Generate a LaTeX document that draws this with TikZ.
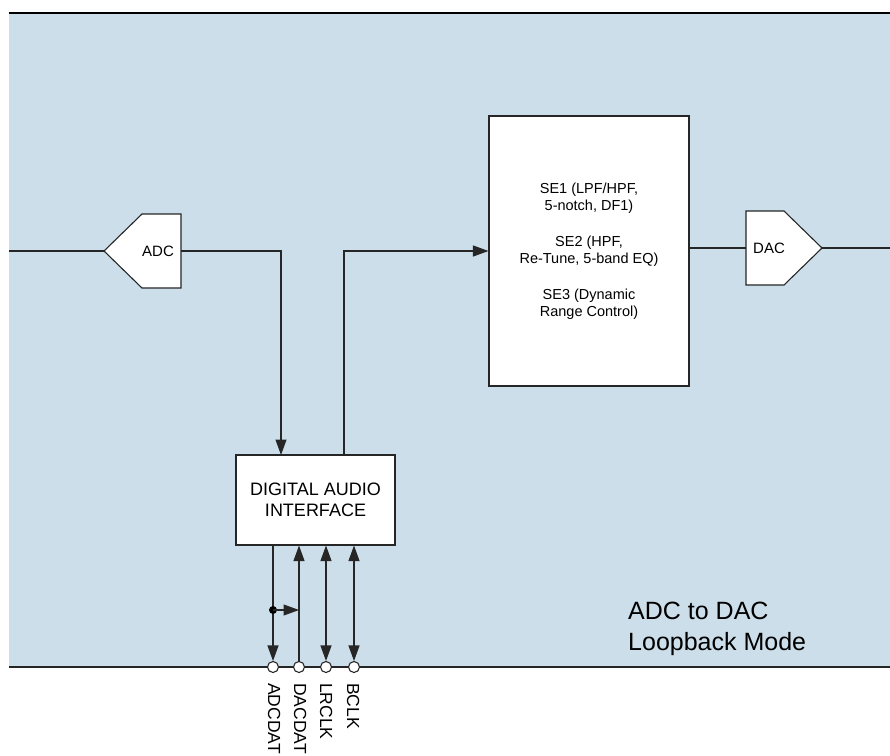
\documentclass[tikz,border=0pt]{standalone}
\usepackage{fontspec}
\setmainfont{Liberation Sans}
\usetikzlibrary{arrows.meta,calc}
\definecolor{bgblue}{RGB}{204,222,234}
\begin{document}
\begin{tikzpicture}[x=1pt,y=-1pt,
  wire/.style={line width=1.1pt, draw=black!85},
  arr/.style={wire,-{Triangle[length=15.5pt,width=11pt]}},
  arrb/.style={wire,{Triangle[length=15.5pt,width=11pt]}-{Triangle[length=15.5pt,width=11pt]}},
  blk/.style={draw=black!85, line width=1.1pt, fill=white, inner sep=0pt, align=center},
  pinc/.style={circle, draw=black!85, line width=1.1pt, fill=white, minimum size=11pt, inner sep=0pt},
  pinlabel/.style={rotate=-90, anchor=base west, inner sep=0pt, font=\fontsize{17.5}{20}\selectfont},
  lbl/.style={font=\fontsize{15}{18}\selectfont, inner sep=0pt}
]
\useasboundingbox (0,0) rectangle (890,755);
\fill[bgblue] (9,13) rectangle (890,667);
\draw[line width=2.5pt] (9,13) -- (890,13);
\draw[line width=2.5pt, draw=black!85] (9,667) -- (890,667);

% SE block
\node[blk, minimum width=200pt, minimum height=270pt, font=\fontsize{14.5}{17}\selectfont] (se) at (589,251)
  {SE1 (LPF/HPF,\\5-notch, DF1)\\[19pt]SE2 (HPF,\\Re-Tune, 5-band EQ)\\[19pt]SE3 (Dynamic\\Range Control)};

% DAI block
\node[blk, minimum width=159pt, minimum height=90pt, font=\fontsize{18}{21}\selectfont] (dai) at (315.5,500)
  {DIGITAL AUDIO\\INTERFACE};

% ADC
\coordinate (adctip) at (104,251);
\coordinate (adcout) at (181,251);
\draw[blk] (adctip) -- (142,214) -- (181,214) -- (181,288) -- (142,288) -- cycle;
\node[lbl] (adc) at (158,251) {ADC};

% DAC
\coordinate (dacin) at (746,248);
\coordinate (dactip) at (822,248);
\draw[blk] (dacin) -- (746,211) -- (784,211) -- (dactip) -- (784,285) -- (746,285) -- cycle;
\node[lbl] (dac) at (769,248) {DAC};

% connectors
\coordinate (inL) at (9,251);
\coordinate (outR) at (890,248);
\coordinate (daiin) at (281,455);
\coordinate (daiout) at (344,455);
\draw[wire] (inL) -- (adctip);
\draw[arr] (adcout) -| (daiin);
\draw[arr] (daiout) |- (se.west);
\draw[wire] (se.east |- dacin) -- (dacin);
\draw[wire] (dactip) -- (outR);

% pins
\node[pinc] (p1) at (273,667) {};
\node[pinc] (p2) at (299,667) {};
\node[pinc] (p3) at (326,667) {};
\node[pinc] (p4) at (354,667) {};
\draw[arr] (dai.south -| p1) -- (p1.north);
\draw[arr] (p2.north) -- (dai.south -| p2);
\draw[arrb] (p3.north) -- (dai.south -| p3);
\draw[arrb] (p4.north) -- (dai.south -| p4);
\node[circle, fill=black, minimum size=8pt, inner sep=0pt] (dot) at (273,610) {};
\draw[arr] (dot.center) -- (dot -| p2);

\node[pinlabel] (l1) at (268,683) {ADCDAT};
\node[pinlabel] (l2) at (294,683) {DACDAT};
\node[pinlabel] (l3) at (320,683) {LRCLK};
\node[pinlabel] (l4) at (347,683) {BCLK};

\node[anchor=north west, inner sep=0pt, align=left, font=\fontsize{25}{31}\selectfont] (mode) at (628,602)
  {ADC to DAC\\Loopback Mode};
\end{tikzpicture}
\end{document}
